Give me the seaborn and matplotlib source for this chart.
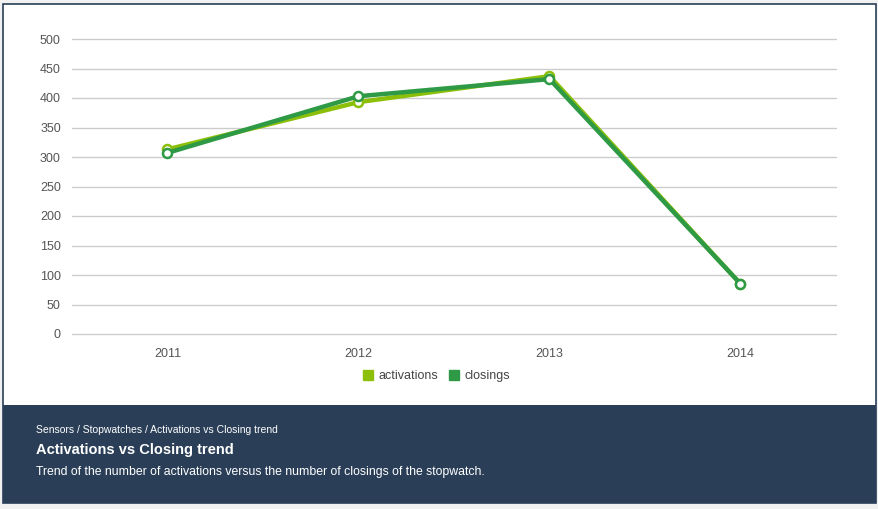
import pandas as pd
import matplotlib.pyplot as plt
import seaborn as sns
from matplotlib.patches import Rectangle
from matplotlib.lines import Line2D

years = ["2011", "2012", "2013", "2014"]
activations = [313, 393, 437, 85]
closings = [307, 403, 432, 85]
series_names = ["activations", "closings"]
y_ticks = [0, 50, 100, 150, 200, 250, 300, 350, 400, 450, 500]

colors = {"activations": "#8cbf0a", "closings": "#2e9a45"}

sns.set_style("white")
plt.rcParams["font.family"] = ["Liberation Sans", "DejaVu Sans"]

df = pd.DataFrame({
    "year": years * 2,
    "value": activations + closings,
    "series": ["activations"] * 4 + ["closings"] * 4,
})

W, H = 879, 509
fig = plt.figure(figsize=(W / 100, H / 100), dpi=100)
fig.patch.set_facecolor("#f1f1f1")

# card background + border, footer panel
fig.add_artist(Rectangle((3.5 / W, 1 - 503 / H), 872.5 / W, 499 / H, transform=fig.transFigure,
                         facecolor="white", edgecolor="#2a3f57", linewidth=1.2, zorder=0))
fig.add_artist(Rectangle((3.5 / W, 1 - 503 / H), 872.5 / W, 98 / H, transform=fig.transFigure,
                         facecolor="#2a3f57", edgecolor="none", zorder=0))

ax = fig.add_axes([72 / W, 1 - 334 / H, (836 - 72) / W, (334 - 39) / H])
ax.set_facecolor("none")

sns.lineplot(data=df, x="year", y="value", hue="series", palette=colors,
             linewidth=3.2, marker="o", markersize=6.5, markerfacecolor="white",
             markeredgewidth=1.8, legend=False, ax=ax, sort=False)
for line, name in zip(ax.get_lines(), series_names):
    line.set_markeredgecolor(colors[name])
    line.set_zorder(3 if name == "closings" else 2)

ax.set_xlim(-0.5, 3.5)
ax.set_ylim(0, 500)
ax.set_yticks(y_ticks)
ax.yaxis.grid(True, color="#cccccc", linewidth=1)
for gl in ax.get_ygridlines():
    gl.set_clip_on(False)
ax.set_axisbelow(True)
for s in ax.spines.values():
    s.set_visible(False)
ax.tick_params(axis="both", length=0, labelsize=9, colors="#555555")
ax.tick_params(axis="y", pad=8)
ax.tick_params(axis="x", pad=10)
ax.set_xlabel("")
ax.set_ylabel("")

handles = [Line2D([], [], marker="s", linestyle="none", markersize=7,
                  markerfacecolor=colors[n], markeredgecolor=colors[n]) for n in series_names]
leg = fig.legend(handles, series_names, loc="center", bbox_to_anchor=(436 / W, 1 - 376 / H),
                 ncol=2, frameon=False, fontsize=9, handletextpad=0.3, columnspacing=0.8,
                 handlelength=1.0)
for t in leg.get_texts():
    t.set_color("#444444")

fig.text(36 / W, 1 - 430 / H, "Sensors / Stopwatches / Activations vs Closing trend",
         color="white", fontsize=7.5, va="center")
fig.text(36 / W, 1 - 450 / H, "Activations vs Closing trend",
         color="white", fontsize=10.5, fontweight="bold", va="center")
fig.text(36 / W, 1 - 472 / H,
         "Trend of the number of activations versus the number of closings of the stopwatch.",
         color="white", fontsize=8.8, va="center")

fig.savefig("out.png", dpi=100, facecolor=fig.get_facecolor())
